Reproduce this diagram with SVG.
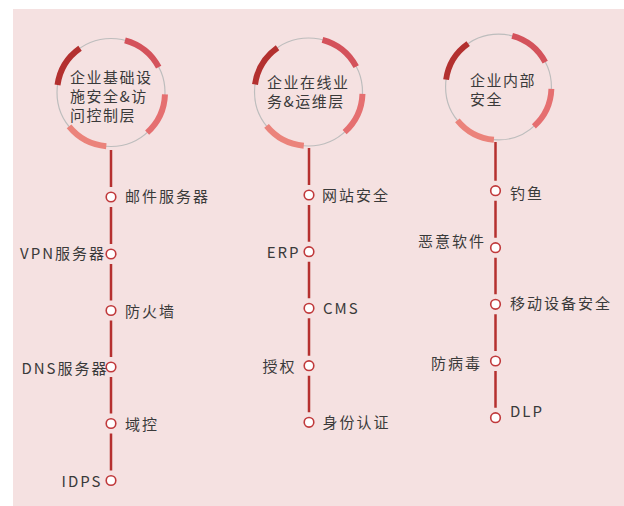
<svg xmlns="http://www.w3.org/2000/svg" width="624" height="506" viewBox="0 0 624 506">
  <style>
    text { font-family: "Noto Sans CJK SC", "Noto Sans", sans-serif; fill: #3a3a3a; }
    .head { font-size: 15px; letter-spacing: 1.5px; }
    .lbl { font-size: 15px; letter-spacing: 2px; }
    .end { text-anchor: end; }
    .ring-base { fill: none; stroke: #bdbdbd; stroke-width: 1.2; }
    .arc { fill: none; stroke-width: 6; stroke-linecap: butt; }
    .a1 { stroke: #b3302f; }
    .a2 { stroke: #d4525b; }
    .a3 { stroke: #e56f70; }
    .a4 { stroke: #eb837b; }
    .conn { stroke: #b5302f; stroke-width: 2.5; fill: none; }
    .dot { fill: #ffffff; stroke: #c0393b; stroke-width: 1.6; }
  </style>
  <defs>
    <g id="ring">
      <circle class="ring-base" cx="0" cy="0" r="54"/>
      <path class="arc a1" d="M -53.48 -7.52 A 54 54 0 0 1 -30.97 -44.24"/>
      <path class="arc a2" d="M 13.98 -52.16 A 54 54 0 0 1 47.68 -25.35"/>
      <path class="arc a3" d="M 53.97 1.88 A 54 54 0 0 1 36.13 40.13"/>
      <path class="arc a4" d="M -4.71 53.79 A 54 54 0 0 1 -41.96 33.98"/>
    </g>
  </defs>

  <rect x="13" y="9" width="611" height="497" fill="#f5e1e1"/>

  <g id="connectors">
    <path class="conn" d="M 111 150 V 187 M 111 207 V 244 M 111 264 V 300.5 M 111 320.5 V 357 M 111 377 V 413.5 M 111 433.5 V 470.5"/>
    <path class="conn" d="M 309 148 V 185 M 309 205 V 241.7 M 309 261.7 V 298.3 M 309 318.3 V 355.7 M 309 375.7 V 412.3"/>
    <path class="conn" d="M 495.5 142 V 180.7 M 495.5 200.7 V 237.7 M 495.5 257.7 V 294.3 M 495.5 314.3 V 351 M 495.5 371 V 407.7"/>
  </g>

  <g id="layer-infra">
    <use href="#ring" transform="translate(111 92.5)"/>
    <text class="head" x="70" y="82.5">企业基础设</text>
    <text class="head" x="70" y="101.5">施安全&amp;访</text>
    <text class="head" x="70" y="120.5">问控制层</text>
  </g>
  <g id="layer-online">
    <use href="#ring" transform="translate(308.5 92)"/>
    <text class="head" x="267" y="87.5">企业在线业</text>
    <text class="head" x="267" y="106.5">务&amp;运维层</text>
  </g>
  <g id="layer-internal">
    <use href="#ring" transform="translate(498.5 87) scale(0.98)"/>
    <text class="head" x="470" y="86">企业内部</text>
    <text class="head" x="470" y="105">安全</text>
  </g>

  <g id="n-mail"><circle class="dot" cx="111" cy="197" r="4.8"/><text class="lbl" x="125" y="202">邮件服务器</text></g>
  <g id="n-vpn"><circle class="dot" cx="111" cy="254" r="4.8"/><text class="lbl end" x="106" y="258.5">VPN服务器</text></g>
  <g id="n-firewall"><circle class="dot" cx="111" cy="310.5" r="4.8"/><text class="lbl" x="125" y="317">防火墙</text></g>
  <g id="n-dns"><circle class="dot" cx="111" cy="367" r="4.8"/><text class="lbl end" x="108.5" y="374">DNS服务器</text></g>
  <g id="n-domain"><circle class="dot" cx="111" cy="423.5" r="4.8"/><text class="lbl" x="125" y="430">域控</text></g>
  <g id="n-idps"><circle class="dot" cx="111" cy="480.5" r="4.8"/><text class="lbl end" x="102.5" y="487">IDPS</text></g>

  <g id="n-web"><circle class="dot" cx="309" cy="195" r="4.8"/><text class="lbl" x="322" y="201">网站安全</text></g>
  <g id="n-erp"><circle class="dot" cx="309" cy="251.7" r="4.8"/><text class="lbl end" x="300.5" y="258">ERP</text></g>
  <g id="n-cms"><circle class="dot" cx="309" cy="308.3" r="4.8"/><text class="lbl" x="323" y="314">CMS</text></g>
  <g id="n-auth"><circle class="dot" cx="309" cy="365.7" r="4.8"/><text class="lbl end" x="296.5" y="372">授权</text></g>
  <g id="n-identity"><circle class="dot" cx="309" cy="422.3" r="4.8"/><text class="lbl" x="322.5" y="428">身份认证</text></g>

  <g id="n-phishing"><circle class="dot" cx="495.5" cy="190.7" r="4.8"/><text class="lbl" x="510" y="198.5">钓鱼</text></g>
  <g id="n-malware"><circle class="dot" cx="495.5" cy="247.7" r="4.8"/><text class="lbl end" x="486" y="247">恶意软件</text></g>
  <g id="n-mobile"><circle class="dot" cx="495.5" cy="304.3" r="4.8"/><text class="lbl" x="510" y="308.5">移动设备安全</text></g>
  <g id="n-antivirus"><circle class="dot" cx="495.5" cy="361" r="4.8"/><text class="lbl end" x="482" y="368.5">防病毒</text></g>
  <g id="n-dlp"><circle class="dot" cx="495.5" cy="417.7" r="4.8"/><text class="lbl" x="510" y="416.5">DLP</text></g>
</svg>
